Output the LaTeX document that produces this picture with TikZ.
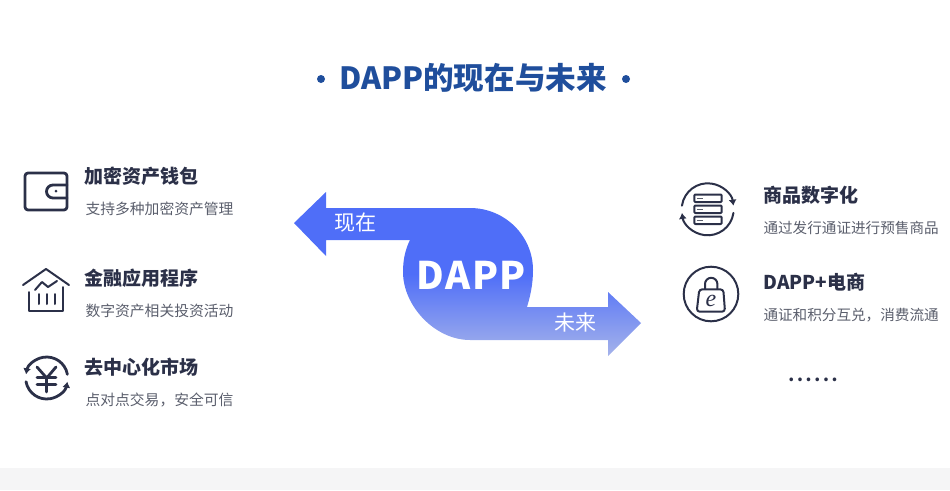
\documentclass[tikz,border=0pt]{standalone}
\usepackage{fontspec}
\setmainfont{Noto Sans CJK SC}
\newfontfamily\efont{Liberation Serif}
\usetikzlibrary{arrows.meta}
\definecolor{titleblue}{HTML}{1F4E9C}
\definecolor{inkdark}{HTML}{2B3048}
\definecolor{inkgrey}{HTML}{5A5E6C}
\definecolor{arrowblue}{HTML}{4F6EF8}
\definecolor{arrowpale}{HTML}{A5B3EA}
\definecolor{stripgrey}{HTML}{F5F5F6}
\tikzset{
every picture/.style={
line width=1pt
}}
\begin{document}
\begin{tikzpicture}[x=1pt, y=-1pt,
itemhead/.style = {anchor=west, inner sep=0pt, text=inkdark, font=\fontsize{19}{19}\selectfont\bfseries},
itemtext/.style = {anchor=west, inner sep=0pt, text=inkgrey, font=\fontsize{14.8}{15}\selectfont},
arrowtext/.style = {inner sep=0pt, text=white, font=\fontsize{21}{21}\selectfont},
icon/.style = {draw=inkdark, line width=2.8pt, line join=round, line cap=round},
thinicon/.style = {draw=inkdark, line width=2pt, line join=round, line cap=round}]

\useasboundingbox (0,0) rectangle (950,490);
\fill [stripgrey] (0,468) rectangle (950,490);

% title
\node (title) [inner sep=0pt, text=titleblue, font=\fontsize{30.6}{31}\selectfont\bfseries] at (473,78) {DAPP的现在与未来};
\fill [titleblue] (321,79) circle (4pt);
\fill [titleblue] (626,79) circle (4pt);

% the S arrow
\path [top color=arrowblue, bottom color=arrowpale, middle color=arrowblue]
  (294,223) -- (326,192) -- (326,208) -- (470,208)
  .. controls (505,208) and (533,236) .. (533,270)
  .. controls (533,285) and (530,297) .. (527,307)
  -- (608,307) -- (608,292) -- (641,323) -- (608,356) -- (608,340) -- (470,340)
  .. controls (435,340) and (403,306) .. (403,272)
  .. controls (403,258) and (406,248) .. (410,240)
  -- (326,240) -- (326,256) -- cycle;
\node (now) [arrowtext] at (355,223) {现在};
\node (future) [arrowtext] at (575,323) {未来};
\node (dapp) [inner sep=0pt, text=white, font=\fontsize{38}{38}\selectfont\bfseries] at (471,275) {D\kern1.5pt A\kern1.5pt P\kern1.5pt P};

% left column
\node (walletHead) [itemhead] at (84,176) {加密资产钱包};
\node (walletText) [itemtext] at (85,209) {支持多种加密资产管理};
\node (financeHead) [itemhead] at (84,278) {金融应用程序};
\node (financeText) [itemtext] at (85,311) {数字资产相关投资活动};
\node (marketHead) [itemhead] at (84,367) {去中心化市场};
\node (marketText) [itemtext] at (85,400) {点对点交易，安全可信};

% right column
\node (goodsHead) [itemhead] at (763,195) {商品数字化};
\node (goodsText) [itemtext, font=\fontsize{14.6}{15}\selectfont] at (763,228) {通过发行通证进行预售商品};
\node (shopHead) [itemhead] at (763,282) {DAPP+电商};
\node (shopText) [itemtext, font=\fontsize{14.6}{15}\selectfont] at (763,315) {通证和积分互兑，消费流通};
\node (more) [inner sep=0pt, text=inkdark, font=\fontsize{17}{17}\selectfont\bfseries] at (813,380) {.\kern2.7pt.\kern2.7pt.\kern2.7pt.\kern2.7pt.\kern2.7pt.};

% wallet
\draw [icon, rounded corners=3pt] (25,173) rectangle (67,210);
\draw [icon] (67,185) -- (53,185) arc [start angle=90, end angle=270, radius=6.5pt] -- (67,198);
\fill [inkdark] (56,191) circle (1.5pt);

% house
\draw [thinicon] (23,285) -- (46,269) -- (69,285);
\draw [thinicon] (29,292) -- (29,311) -- (63,311) -- (63,287);
\draw [thinicon] (35,290) -- (42,282) -- (48,287) -- (57,281);
\foreach \x in {38.5,47,55} {
  \draw [thinicon] (\x,294) -- (\x,304);
}

% yen
\draw [icon, -{Latex[length=6pt,width=8pt]}] ([shift={(10:21pt)}]46.7,378) arc [start angle=10, end angle=170, radius=21pt];
\draw [icon, -{Latex[length=6pt,width=8pt]}] ([shift={(190:21pt)}]46.7,378) arc [start angle=190, end angle=350, radius=21pt];
\draw [icon] (37,367) -- (46.7,378) -- (56,367);
\draw [icon] (37,377.5) -- (56,377.5);
\draw [icon] (37,384.5) -- (56,384.5);
\draw [icon] (46.7,378) -- (46.7,392);

% goods
\draw [thinicon, -{Latex[length=6pt,width=8pt]}] ([shift={(172:26pt)}]707.7,209.3) arc [start angle=172, end angle=8, radius=26pt];
\draw [thinicon, -{Latex[length=6pt,width=8pt]}] ([shift={(-8:26pt)}]707.7,209.3) arc [start angle=-8, end angle=-172, radius=26pt];
\foreach \y in {194.5,205.5,216.5} {
  \draw [thinicon, rounded corners=1pt] (694.3,\y) rectangle (721.7,\y+7.5);
  \draw [draw=inkgrey, line width=1.4pt] (697,\y+3.7) -- (703,\y+3.7);
}

% shop
\draw [thinicon] (711,294) circle (27.3pt);
\draw [thinicon, rounded corners=3pt] (699.3,289.3) -- (723.3,289.3) -- (725,311.7) -- (696.7,311.7) -- cycle;
\draw [thinicon] (705,289) -- (705,284) arc [start angle=180, end angle=0, radius=6.2pt] -- (717.4,289);
\node (shopE) [inner sep=0pt, text=inkdark, font=\fontsize{24}{24}\selectfont\efont\itshape] at (711,301) {e};
\end{tikzpicture}
\end{document}
